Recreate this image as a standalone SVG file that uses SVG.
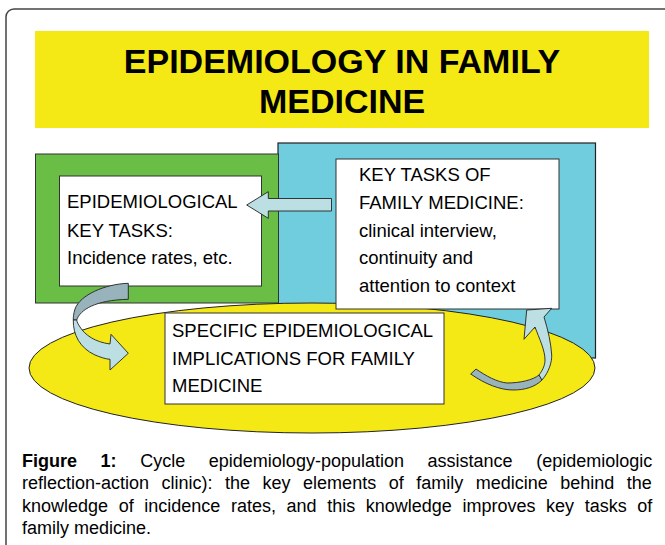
<svg xmlns="http://www.w3.org/2000/svg" width="665" height="545" viewBox="0 0 665 545">
<style>
.t{font-family:"Liberation Sans",Arial,sans-serif;fill:#000}
.box{fill:#fff;stroke:#333;stroke-width:1}
.lt{fill:#bcdfe4;stroke:#222;stroke-width:0.9;stroke-linejoin:round}
.dk{fill:#98b3bb;stroke:#222;stroke-width:0.9;stroke-linejoin:round}
.bt{font-size:18.5px}
.cap{font-size:18px}
</style>
<rect x="6" y="9" width="666" height="560" rx="8" fill="#fff" stroke="#444" stroke-width="1.5"/>
<g id="title">
<rect x="35" y="31" width="614" height="97" fill="#f5e915"/>
<text class="t" x="342" y="72.5" font-size="34" font-weight="bold" text-anchor="middle">EPIDEMIOLOGY IN FAMILY</text>
<text class="t" x="342" y="113" font-size="34" font-weight="bold" text-anchor="middle">MEDICINE</text>
</g>
<g id="family-medicine-panel">
<rect x="278" y="143" width="317.5" height="215" fill="#6fcddd" stroke="#222" stroke-width="1.2"/>
</g>
<g id="epidemiological-panel">
<rect x="35.5" y="154" width="243" height="149" fill="#6abd45" stroke="#333" stroke-width="1"/>
<rect class="box" x="59.5" y="176" width="202" height="110"/>
<text class="t bt" x="67" y="208">EPIDEMIOLOGICAL</text>
<text class="t bt" x="67" y="236.5">KEY TASKS:</text>
<text class="t bt" x="67" y="264">Incidence rates, etc.</text>
</g>
<g id="implications-ellipse">
<ellipse cx="312" cy="368" rx="283" ry="65" fill="#f5e915" stroke="#222" stroke-width="1"/>
</g>
<g id="key-tasks-family-medicine">
<rect class="box" x="336" y="159" width="223" height="150"/>
<text class="t bt" x="359" y="181">KEY TASKS OF</text>
<text class="t bt" x="359" y="209">FAMILY MEDICINE:</text>
<text class="t bt" x="359" y="236.5">clinical interview,</text>
<text class="t bt" x="359" y="264">continuity and</text>
<text class="t bt" x="359" y="292">attention to context</text>
</g>
<g id="specific-implications">
<rect class="box" x="165" y="313" width="279" height="91"/>
<text class="t bt" x="172" y="337">SPECIFIC EPIDEMIOLOGICAL</text>
<text class="t bt" x="172" y="364.5">IMPLICATIONS FOR FAMILY</text>
<text class="t bt" x="172" y="392">MEDICINE</text>
</g>
<g id="connectors">
<path class="lt" d="M331.5,198.5 L268.3,198.5 L268.3,191.7 L246.7,205 L268.3,218.3 L268.3,211 L331.5,211 Z"/>
<path class="dk" d="M128.3,283.3 C105,284 80,295 75,309 C73.5,314 73.2,317 73.3,320 L76.7,320 C80,310 95,300 128.3,299.3 Z"/>
<path class="lt" d="M73.3,320 C73,335 80,348 95,355 C100,357 105,359 110,359.3 L110,370 L128.3,353.3 L111,334.3 L110,344 C95,342 85,335 80,327 C78,324 77,322 76.7,320 Z"/>
<path class="dk" d="M470.7,374 C485,384 500,390 513,390 C525,390 535,387 542,380 L539,375 C533,380 520,383 507,383 C497,382 486,376 476,369 Z"/>
<path class="lt" d="M542,380 C549,372 552,362 551.7,355 C551,343 548,330 544,317 L551.7,308.3 L526.7,310 L524,339.3 L535,327 C539,338 545,350 545,360 C545,366 542,371 539,375 Z"/>
</g>
<g id="caption">
<text class="t cap" x="22" y="467" word-spacing="18.6"><tspan font-weight="bold">Figure 1:</tspan> Cycle epidemiology-population assistance (epidemiologic</text>
<text class="t cap" x="22" y="489" word-spacing="7.5">reflection-action clinic): the key elements of family medicine behind the</text>
<text class="t cap" x="22" y="511.5" word-spacing="5.6">knowledge of incidence rates, and this knowledge improves key tasks of</text>
<text class="t cap" x="22" y="534">family medicine.</text>
</g>
</svg>
